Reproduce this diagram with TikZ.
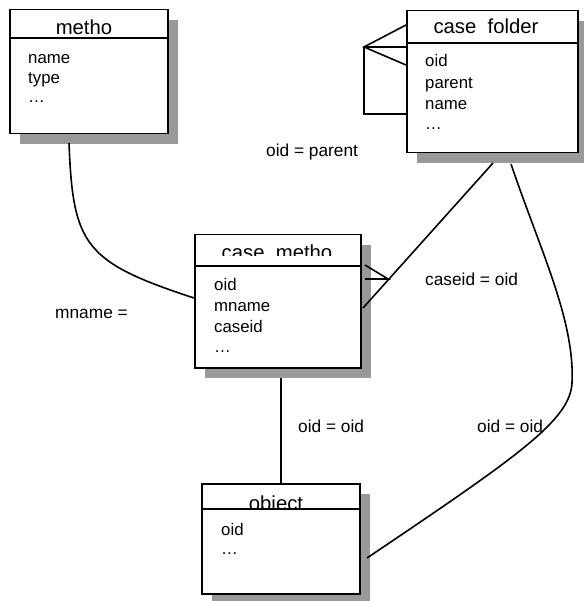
\documentclass[tikz,border=0pt]{standalone}
\usepackage{fontspec}
\setmainfont{Liberation Sans}
\usetikzlibrary{shadows}

\tikzset{
  entity/.style={draw, line width=1.5pt, fill=white, inner sep=0pt,
    anchor=north west,
    drop shadow={shadow xshift=10pt, shadow yshift=-10pt, fill=black!40, opacity=1}},
  sep/.style={line width=1.3pt},
  link/.style={line width=1.6pt},
  title/.style={anchor=base, inner sep=0pt, font=\fontsize{20.3}{24}\selectfont},
  attr/.style={anchor=base west, inner sep=0pt, font=\fontsize{16.8}{20}\selectfont},
  rel/.style={anchor=base west, inner sep=0pt, font=\fontsize{17.3}{20}\selectfont}
}

\begin{document}
\begin{tikzpicture}[x=1pt, y=-1pt]
\useasboundingbox (0,0) rectangle (583,601);

% entity boxes
\node[entity, minimum width=158pt, minimum height=124pt] (metho) at (9,9) {};
\node[entity, minimum width=171pt, minimum height=142pt] (folder) at (406,10) {};
\node[entity, minimum width=166pt, minimum height=133pt] (cmetho) at (194,234) {};
\node[entity, minimum width=158pt, minimum height=110pt] (object) at (201,483) {};

% header separators
\draw[sep] (metho.west |- 0,38) -- (metho.east |- 0,38);
\draw[sep] (folder.west |- 0,43) -- (folder.east |- 0,43);
\draw[sep] (cmetho.west |- 0,266) -- (cmetho.east |- 0,266);
\draw[sep] (object.west |- 0,509) -- (object.east |- 0,509);

% headers
\node[title] (tmetho) at (84,35) {metho};
\node[title] (tfolder) at (486,34) {case\ \ folder};
\begin{scope}
  \clip (195,240) rectangle (359,255);
  \node[title] (tcmetho) at (277,259.5) {case\ \ metho};
\end{scope}
\begin{scope}
  \clip (202,490) rectangle (358,507.5);
  \node[title] (tobject) at (276,510) {object};
\end{scope}

% attributes
\node[attr] (m1) at (28,64) {name};
\node[attr] (m2) at (28,83.5) {type};
\node[attr] (m3) at (28,103) {\dots};

\node[attr] (f1) at (425,67) {oid};
\node[attr] (f2) at (425,88.5) {parent};
\node[attr] (f3) at (425,110) {name};
\node[attr] (f4) at (425,130) {\dots};

\node[attr] (c1) at (214,290.5) {oid};
\node[attr] (c2) at (214,311.5) {mname};
\node[attr] (c3) at (214,332.5) {caseid};
\node[attr] (c4) at (214,352) {\dots};

\node[attr] (o1) at (221,535) {oid};
\node[attr] (o2) at (221,554) {\dots};

% relation labels
\node[rel] (lparent) at (266,157) {oid = parent};
\node[rel] (lmname) at (55,318) {mname =};
\node[rel] (lcaseid) at (425,285.5) {caseid = oid};
\node[rel] (loid1) at (298,432) {oid = oid};
\node[rel] (loid2) at (477,432) {oid = oid};

% connector end points
\coordinate (mA) at (69,143);
\coordinate (mB) at (194,298);
\coordinate (fTop) at (406,25);
\coordinate (fMid) at (406,47);
\coordinate (fLow) at (406,65);
\coordinate (fBot) at (406,114);
\coordinate (fFork) at (364,47);
\coordinate (fCorner) at (364,114);
\coordinate (fA) at (493,163);
\coordinate (cLow) at (363,308);
\coordinate (cFork) at (388,279);
\coordinate (cTine1) at (365,265);
\coordinate (cTine2) at (365,279);
\coordinate (cA) at (281,378);
\coordinate (oA) at (281,483);
\coordinate (fB) at (511,164);
\coordinate (fTurn) at (572,383);
\coordinate (oB) at (367,558);

% metho -- case metho
\draw[link] (mA) .. controls (73,245) and (84,262) .. (mB);

% recursive case folder relation
\draw[link] (fBot) -- (fCorner) -- (fFork) -- (fMid);
\draw[link] (fTop) -- (fFork) -- (fLow);

% case folder -- case metho (many side at case metho)
\draw[link] (fA) -- (cLow);
\draw[link] (cTine1) -- (cFork) -- (cTine2);

% case metho -- object
\draw[link] (cA) -- (oA);

% case folder -- object
\draw[link] (fB) .. controls (540,250) and (575,320) .. (fTurn)
  .. controls (570,420) and (520,455) .. (oB);

\end{tikzpicture}
\end{document}
